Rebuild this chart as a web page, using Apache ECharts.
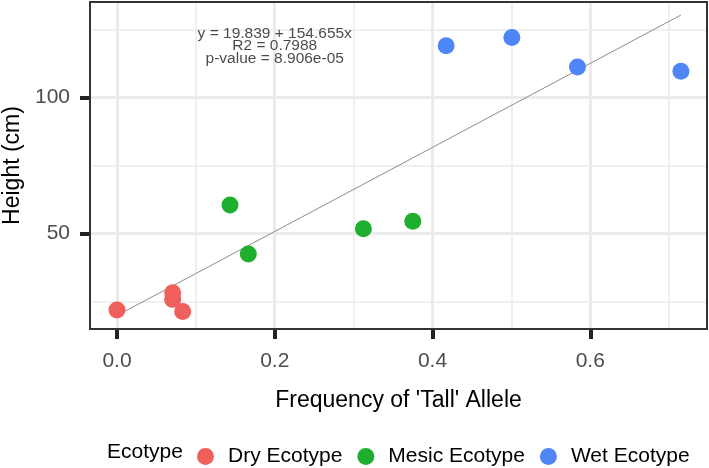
<!DOCTYPE html>
<html>
<head>
<meta charset="utf-8">
<script src="https://cdn.jsdelivr.net/npm/echarts@6/dist/echarts.min.js"></script>
<style>html,body{margin:0;padding:0;background:#fff}#c{width:709px;height:468px}</style>
</head>
<body>
<div id="c"></div>
<script>
// ---- data ----
var dryX = [0.0, 0.0706, 0.0706, 0.0833];
var dryY = [21.9, 28.2, 25.8, 21.3];
var mesicX = [0.1433, 0.1665, 0.3124, 0.375];
var mesicY = [60.5, 42.5, 51.8, 54.5];
var wetX = [0.4173, 0.5006, 0.5838, 0.7149];
var wetY = [119.1, 122.1, 111.3, 109.7];
var fitIntercept = 19.839;
var fitSlope = 154.655;
var fitRange = [0.0, 0.7149];
var annotationLines = ['y = 19.839 + 154.655x', 'R2 = 0.7988', 'p-value = 8.906e-05'];
var annotationPos = [0.2, 119.0];
var xTicks = [0, 0.2, 0.4, 0.6];
var xMinor = [0.1, 0.3, 0.5, 0.7];
var yTicks = [50, 100];
var yMinor = [25, 75, 125];
var seriesNames = ['Dry Ecotype', 'Mesic Ecotype', 'Wet Ecotype'];
var colors = ['#EF5F5C', '#1EAF2E', '#4F86F7'];

function pairs(xs, ys) { return xs.map(function (x, i) { return [x, ys[i]]; }); }

var FONT = 'Liberation Sans, Arial, Helvetica, sans-serif';
var chart = echarts.init(document.getElementById('c'), null, { renderer: 'canvas' });

var gridLines = [];
xMinor.forEach(function (v) { gridLines.push({ xAxis: v, lineStyle: { color: '#ebebeb', width: 1.5, type: 'solid' } }); });
yMinor.forEach(function (v) { gridLines.push({ yAxis: v, lineStyle: { color: '#ebebeb', width: 1.5, type: 'solid' } }); });
xTicks.forEach(function (v) { gridLines.push({ xAxis: v, lineStyle: { color: '#ebebeb', width: 3, type: 'solid' } }); });
yTicks.forEach(function (v) { gridLines.push({ yAxis: v, lineStyle: { color: '#ebebeb', width: 3, type: 'solid' } }); });

var fitData = fitRange.map(function (x) { return [x, fitIntercept + fitSlope * x]; });

var option = {
  animation: false,
  backgroundColor: '#fff',
  textStyle: { fontFamily: FONT },
  grid: { left: 90, right: 2, top: 2, bottom: 139, containLabel: false, outerBoundsMode: 'none',
    show: true, borderColor: '#333', borderWidth: 2, backgroundColor: 'transparent', z: 10 },
  xAxis: {
    type: 'value', min: -0.0342, max: 0.748,
    name: "Frequency of 'Tall' Allele", nameLocation: 'middle', nameGap: 60,
    nameTextStyle: { fontSize: 23, color: '#000', fontFamily: FONT },
    axisLine: { show: false, onZero: false },
    splitLine: { show: false },
    axisTick: { show: true, customValues: xTicks, length: 10, lineStyle: { color: '#222', width: 4 } },
    axisLabel: { customValues: xTicks, fontSize: 21, color: '#4d4d4d', margin: 22, fontFamily: FONT,
      formatter: function (v) { return v.toFixed(1); } }
  },
  yAxis: {
    type: 'value', min: 14.9, max: 135.2,
    name: 'Height (cm)', nameLocation: 'middle', nameGap: 66,
    nameTextStyle: { fontSize: 23, color: '#000', fontFamily: FONT },
    axisLine: { show: false, onZero: false },
    splitLine: { show: false },
    axisTick: { show: true, customValues: yTicks, length: 10, lineStyle: { color: '#222', width: 4 } },
    axisLabel: { customValues: yTicks, fontSize: 21, color: '#4d4d4d', margin: 20, fontFamily: FONT }
  },
  legend: {
    data: seriesNames, left: 192, top: 441, itemWidth: 17, itemHeight: 17, itemGap: 15,
    icon: 'circle',
    textStyle: { fontSize: 21, color: '#000', fontFamily: FONT, padding: [0, 0, 0, 9] }
  },
  graphic: [{
    type: 'text', left: 107, top: 442,
    style: { text: 'Ecotype', fontSize: 21, fill: '#000', fontFamily: FONT }
  }],
  series: [
    { type: 'line', name: 'grid', data: [], z: 0, silent: true,
      markLine: { z: 0, silent: true, symbol: 'none', label: { show: false }, animation: false, data: gridLines } },
    { type: 'line', name: 'fit', data: fitData, showSymbol: false, symbol: 'none', z: 1, silent: true,
      lineStyle: { color: '#8c8c8c', width: 1 } },
    { type: 'scatter', name: seriesNames[0], data: pairs(dryX, dryY), symbolSize: 17, z: 3, itemStyle: { color: colors[0], opacity: 1 } },
    { type: 'scatter', name: seriesNames[1], data: pairs(mesicX, mesicY), symbolSize: 17, z: 3, itemStyle: { color: colors[1], opacity: 1 } },
    { type: 'scatter', name: seriesNames[2], data: pairs(wetX, wetY), symbolSize: 17, z: 3, itemStyle: { color: colors[2], opacity: 1 } },
    { type: 'scatter', name: 'annotation', data: [annotationPos], symbolSize: 0, z: 20, silent: true,
      label: { show: true, position: 'inside', formatter: annotationLines.join('\n'),
        fontSize: 15.5, lineHeight: 12.5, color: '#1a1a1a', align: 'center', verticalAlign: 'middle', fontFamily: FONT } }
  ]
};
chart.setOption(option);
</script>
</body>
</html>
